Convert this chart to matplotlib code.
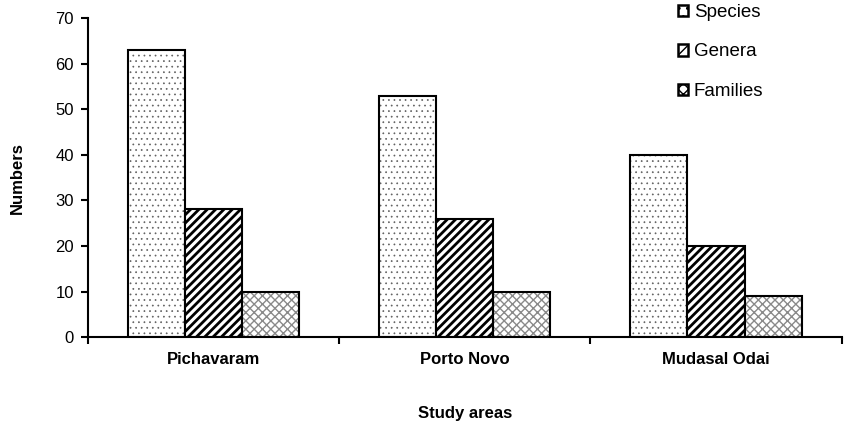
import matplotlib.pyplot as plt
import numpy as np
from matplotlib.patches import Patch

plt.rcParams['font.family'] = ['Liberation Sans', 'DejaVu Sans']

areas = ['Pichavaram', 'Porto Novo', 'Mudasal Odai']
series = ['Species', 'Genera', 'Families']
species = [63, 53, 40]
genera = [28, 26, 20]
families = [10, 10, 9]

values = [species, genera, families]
hatches = ['...', '////', 'xxxx']
hatch_cols = ['#606060', 'black', '#8a8a8a']
hatch_lw = [0.5, 2.0, 1.0]

fig = plt.figure(figsize=(8.45, 4.3), dpi=100)
ax = fig.add_axes([0.104, 0.216, 0.892, 0.742])

x = np.arange(len(areas))
w = 0.227
for i, vals in enumerate(values):
    pos = x + (i - 1) * w
    # hatch layer in its own colour, then black outline on top
    with plt.rc_context({'hatch.linewidth': hatch_lw[i]}):
        ax.bar(pos, vals, w, color='white', edgecolor=hatch_cols[i],
               hatch=hatches[i], linewidth=0)
    ax.bar(pos, vals, w, fill=False, edgecolor='black', linewidth=1.5)

ax.set_xlim(-0.5, 2.5)
ax.set_ylim(0, 70)
ax.set_yticks(range(0, 71, 10))
ax.set_xticks(x)
ax.set_xticklabels(areas, fontsize=12, fontweight='bold')
ax.set_xticks([-0.5, 0.5, 1.5, 2.5], minor=True)
ax.tick_params(axis='x', which='major', length=0, pad=11)
ax.tick_params(axis='x', which='minor', length=5, width=1.5, direction='out')
ax.tick_params(axis='y', length=5, width=1.5, labelsize=12, direction='out', pad=5)

for s in ['top', 'right']:
    ax.spines[s].set_visible(False)
for s in ['left', 'bottom']:
    ax.spines[s].set_linewidth(1.5)

ax.set_ylabel('Numbers', fontsize=12, fontweight='bold', labelpad=22)
ax.set_xlabel('Study areas', fontsize=12, fontweight='bold', labelpad=28)

with plt.rc_context({'hatch.linewidth': 1.2}):
    handles = [Patch(facecolor='white', edgecolor='black', hatch=h, linewidth=1.8)
               for h in ['..', '//', 'xxx']]
leg = fig.legend(handles, series, loc='upper left',
                 bbox_to_anchor=(678 / 845, 1 - 4 / 430),
                 frameon=False, fontsize=13.5, handlelength=0.55, handleheight=0.55,
                 handletextpad=0.3, labelspacing=1.2, borderaxespad=0,
                 borderpad=0)

fig.savefig('out.png', dpi=100)
